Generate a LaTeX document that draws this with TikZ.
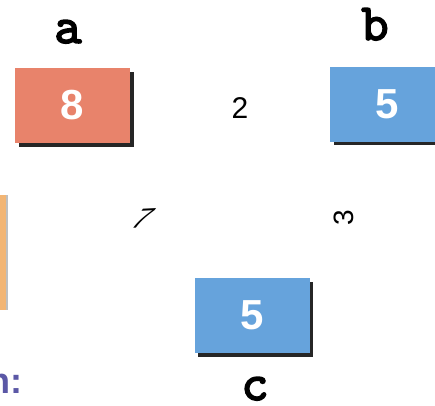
\documentclass[tikz,border=0pt]{standalone}
\usepackage{fontspec}
\setmainfont{Liberation Sans}
\newfontfamily\couriercode{lmmono10-regular.otf}[FakeBold=3]
\usetikzlibrary{shadows}
\definecolor{salmon}{HTML}{E8836B}
\definecolor{skyblue}{HTML}{66A3DC}
\definecolor{peach}{HTML}{F2B574}
\definecolor{violet}{HTML}{5B58A6}
\tikzset{
  valbox/.style={minimum width=115pt, minimum height=75pt, inner sep=0pt,
    text=white, font=\bfseries\fontsize{42}{42}\selectfont,
    general shadow={fill=black!85, shadow xshift=3.5pt, shadow yshift=-3.5pt}},
  varname/.style={anchor=base, inner sep=0pt, font=\couriercode\fontsize{52}{52}\selectfont},
  weight/.style={font=\fontsize{30}{30}\selectfont},
  tilted/.style={font=\fontsize{28}{28}\selectfont}
}
\begin{document}
\begin{tikzpicture}[x=1pt,y=-1pt]
  \useasboundingbox (0,0) rectangle (435,405);
  \clip (0,0) rectangle (435,405);
  % nodes
  \node[valbox, fill=salmon] (a) at (72.5,105.5) {8};
  \node[valbox, fill=skyblue] (b) at (387.5,104) {5};
  \node[valbox, fill=skyblue] (c) at (252,315.5) {5};
  % partial box at the left edge
  \node[minimum width=60pt, minimum height=115pt, inner sep=0pt, fill=peach,
    general shadow={fill=black!25, shadow xshift=2pt, shadow yshift=0pt}] (d) at (-24,252.5) {};
  % variable names
  \node[varname] (la) at (68,43) {a};
  \node[varname] (lb) at (375,40) {b};
  \node[varname] (lc) at (255,400) {c};
  % weights
  \node[weight] (w2) at (240,108) {2};
  \node[tilted, xslant=0.75, rotate=3] (w7) at (143,218) {7};
  \node[tilted, rotate=90] (w3) at (344,218) {3};
  % trailing heading text
  \node[anchor=base east, inner sep=0pt, text=violet, font=\bfseries\fontsize{36}{36}\selectfont] (h) at (23,393) {n:};
\end{tikzpicture}
\end{document}
